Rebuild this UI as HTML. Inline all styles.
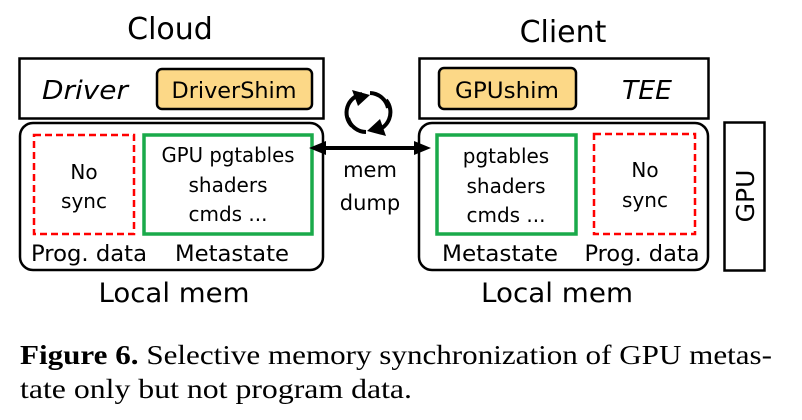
<!DOCTYPE html>
<html><head><meta charset="utf-8"><style>
html,body{margin:0;padding:0;background:#fff;}
svg{display:block;}
text{font-family:"DejaVu Sans","Liberation Sans",sans-serif;fill:#000;}
.cap{font-family:"Liberation Serif",serif;font-size:27px;}
</style></head><body>
<svg width="802" height="420" viewBox="0 0 802 420" xmlns="http://www.w3.org/2000/svg">
<text x="170" y="39" font-size="30" text-anchor="middle">Cloud</text>
<text x="563" y="42" font-size="30" text-anchor="middle">Client</text>
<rect x="19.5" y="58.5" width="304" height="60" fill="#fff" stroke="#000" stroke-width="2.5"/>
<text x="85" y="99" font-size="26" font-style="italic" text-anchor="middle" textLength="86" lengthAdjust="spacingAndGlyphs">Driver</text>
<rect x="157" y="69" width="155" height="40" rx="5" fill="#fcd887" stroke="#000" stroke-width="2.5"/>
<text x="234" y="98" font-size="22" text-anchor="middle" textLength="125" lengthAdjust="spacingAndGlyphs">DriverShim</text>
<rect x="20" y="123" width="303" height="147" rx="13" fill="#fff" stroke="#000" stroke-width="2.5"/>
<rect x="34" y="135" width="100" height="99" fill="none" stroke="#f00" stroke-width="2.5" stroke-dasharray="7,4"/>
<text x="84" y="179" font-size="20" text-anchor="middle">No</text>
<text x="84" y="208" font-size="20" text-anchor="middle">sync</text>
<rect x="144" y="135" width="168" height="99" fill="none" stroke="#1aaa4a" stroke-width="3.5"/>
<text x="228" y="162" font-size="20" text-anchor="middle" textLength="133" lengthAdjust="spacingAndGlyphs">GPU pgtables</text>
<text x="228" y="192" font-size="20" text-anchor="middle">shaders</text>
<text x="228" y="221" font-size="20" text-anchor="middle">cmds ...</text>
<text x="89" y="261" font-size="22" text-anchor="middle" textLength="116" lengthAdjust="spacingAndGlyphs">Prog. data</text>
<text x="232" y="261" font-size="22" text-anchor="middle" textLength="114" lengthAdjust="spacingAndGlyphs">Metastate</text>
<text x="174" y="302" font-size="27" text-anchor="middle" textLength="151" lengthAdjust="spacingAndGlyphs">Local mem</text>
<rect x="419.5" y="58.5" width="289" height="60" fill="#fff" stroke="#000" stroke-width="2.5"/>
<rect x="439" y="68" width="137" height="41" rx="5" fill="#fcd887" stroke="#000" stroke-width="2.5"/>
<text x="507" y="98" font-size="22" text-anchor="middle" textLength="104" lengthAdjust="spacingAndGlyphs">GPUshim</text>
<text x="647" y="99" font-size="26" font-style="italic" text-anchor="middle" textLength="50" lengthAdjust="spacingAndGlyphs">TEE</text>
<rect x="419" y="123" width="289" height="147" rx="13" fill="#fff" stroke="#000" stroke-width="2.5"/>
<rect x="437" y="135" width="139" height="99" fill="none" stroke="#1aaa4a" stroke-width="3.5"/>
<text x="506" y="163" font-size="20" text-anchor="middle">pgtables</text>
<text x="506" y="193" font-size="20" text-anchor="middle">shaders</text>
<text x="506" y="222" font-size="20" text-anchor="middle">cmds ...</text>
<rect x="594" y="134" width="101" height="100" fill="none" stroke="#f00" stroke-width="2.5" stroke-dasharray="7,4"/>
<text x="645" y="177" font-size="20" text-anchor="middle">No</text>
<text x="645" y="207" font-size="20" text-anchor="middle">sync</text>
<text x="500" y="261" font-size="22" text-anchor="middle" textLength="116" lengthAdjust="spacingAndGlyphs">Metastate</text>
<text x="642" y="261" font-size="22" text-anchor="middle" textLength="115" lengthAdjust="spacingAndGlyphs">Prog. data</text>
<text x="557" y="302" font-size="27" text-anchor="middle" textLength="152" lengthAdjust="spacingAndGlyphs">Local mem</text>
<rect x="724.5" y="122.5" width="40" height="148" fill="#fff" stroke="#000" stroke-width="2.5"/>
<text x="0" y="0" font-size="25" text-anchor="middle" transform="translate(754,196) rotate(-90)">GPU</text>
<line x1="320" y1="148" x2="420" y2="148" stroke="#000" stroke-width="4"/>
<path d="M309,148 L326,141 L326,155 z" fill="#000"/>
<path d="M431,148 L414,141 L414,155 z" fill="#000"/>
<text x="370" y="177" font-size="21" text-anchor="middle">mem</text>
<text x="370" y="210" font-size="21" text-anchor="middle">dump</text>
<g fill="none" stroke="#000" stroke-width="4">
<path d="M352,126 A19,19 0 0 1 362,94"/>
<path d="M370,93 A19,19 0 0 1 388,108"/>
<path d="M386,100 A19,19 0 0 1 374,131"/>
<path d="M366,132 A19,19 0 0 1 348,118"/>
</g>
<path d="M352,90 L370,95 L358,106 z" fill="#000"/>
<path d="M386,136 L367,131 L380,119 z" fill="#000"/>
<text class="cap" x="20" y="364" textLength="752" lengthAdjust="spacingAndGlyphs"><tspan font-weight="bold">Figure 6.</tspan> Selective memory synchronization of GPU metas-</text>
<text class="cap" x="20" y="398" textLength="392" lengthAdjust="spacingAndGlyphs">tate only but not program data.</text>
</svg>
</body></html>
